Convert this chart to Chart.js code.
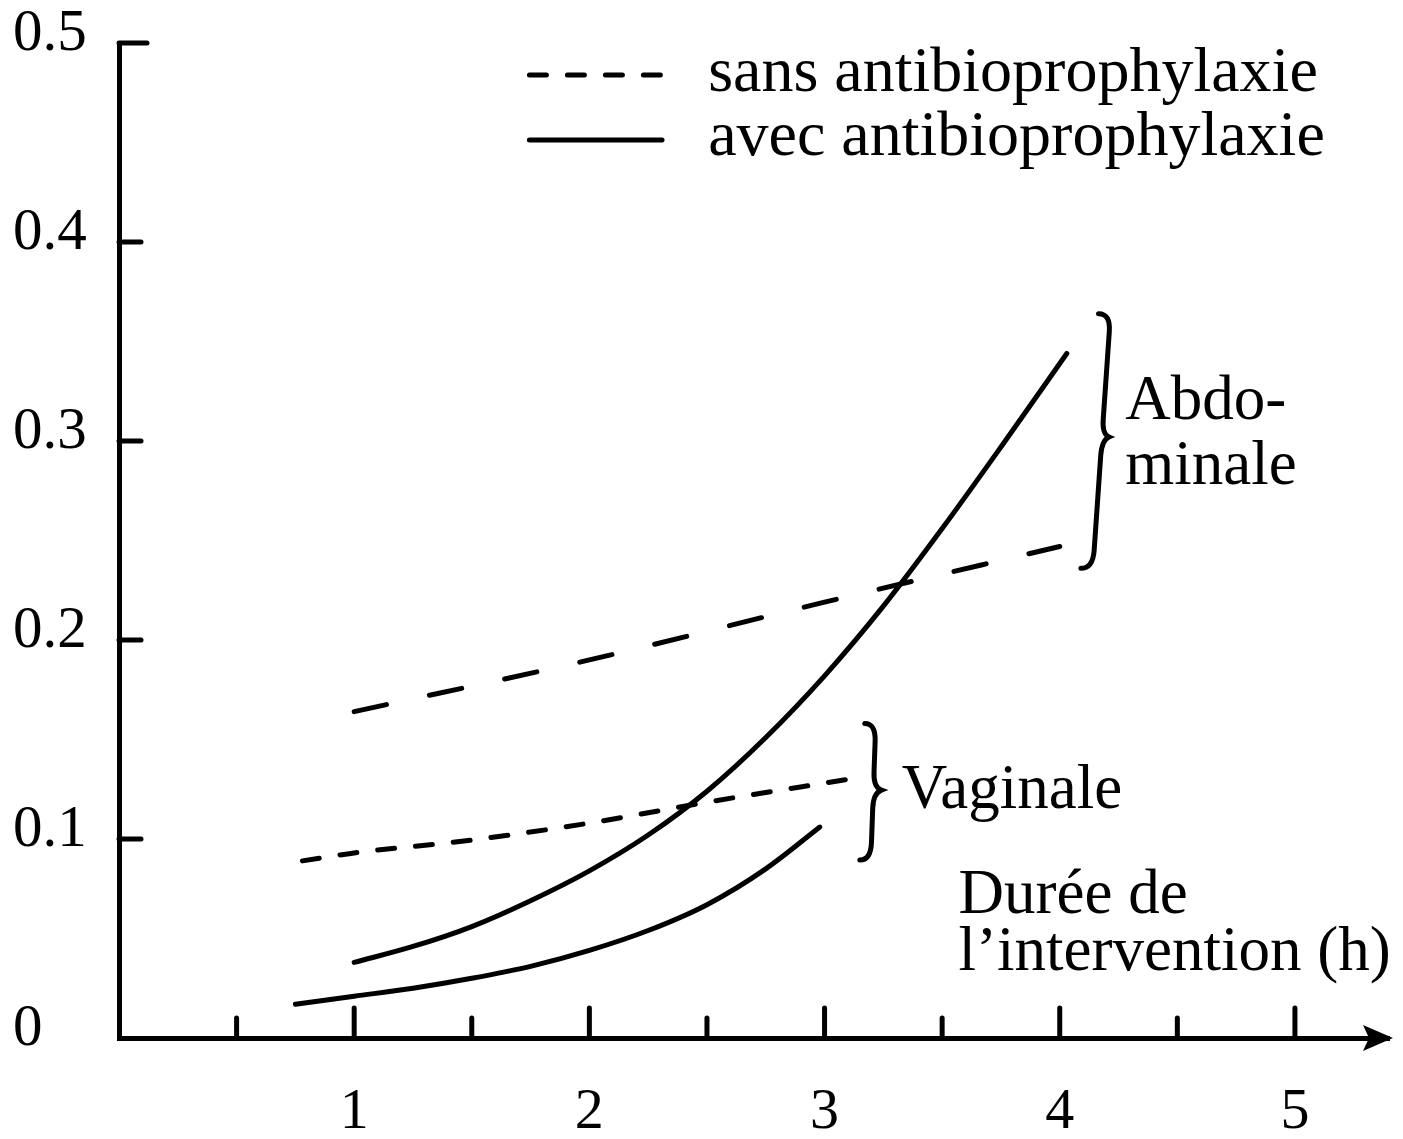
<!DOCTYPE html>
<html>
<head>
<meta charset="utf-8">
<title>Infection et durée de l'intervention</title>
<script src="https://cdn.jsdelivr.net/npm/chart.js@4.4.1/dist/chart.umd.min.js"></script>
<style>
  html, body { margin: 0; padding: 0; background: #fff; }
  #wrap { width: 1403px; height: 1139px; }
</style>
</head>
<body>
<div id="wrap"><canvas id="graphe" width="1403" height="1139"></canvas></div>
<script>
// valeurs : durée (h) -> taux
var abdoSansX = [1.0, 2.0, 3.0, 4.0];
var abdoSansY = [0.164, 0.190, 0.219, 0.247];

var abdoAvecX = [1.0, 1.25, 1.5, 1.75, 2.0, 2.25, 2.5, 2.75, 3.0, 3.25, 3.5, 3.75, 4.03];
var abdoAvecY = [0.038, 0.046, 0.056, 0.069, 0.084, 0.102, 0.124, 0.151, 0.182, 0.217, 0.256, 0.297, 0.344];

var vagSansX = [0.78, 1.0, 1.5, 2.0, 2.5, 3.1];
var vagSansY = [0.089, 0.093, 0.0995, 0.108, 0.1185, 0.130];

var vagAvecX = [0.75, 1.0, 1.25, 1.5, 1.75, 2.0, 2.25, 2.5, 2.75, 2.98];
var vagAvecY = [0.017, 0.021, 0.025, 0.030, 0.036, 0.044, 0.054, 0.067, 0.085, 0.106];

var xTickLabels = ['1', '2', '3', '4', '5'];
var yTickLabels = ['0', '0.1', '0.2', '0.3', '0.4', '0.5'];
var legendLabels = ['sans antibioprophylaxie', 'avec antibioprophylaxie'];

var serif = '"Liberation Serif", "DejaVu Serif", serif';

function points(xs, ys) {
  return xs.map(function (x, i) { return { x: x, y: ys[i] }; });
}

var trait = {
  borderColor: '#000',
  borderWidth: 5,
  pointRadius: 0,
  fill: false,
  cubicInterpolationMode: 'monotone',
  borderCapStyle: 'round',
  borderJoinStyle: 'round'
};

function accolade(ctx, b) {
  var s = b.spine, c = b.cusp, r = 18;
  var spineX = function (y) {
    return b.xTop + s + (b.xBot - b.xTop) * (y - b.yTop) / (b.yBot - b.yTop);
  };
  ctx.beginPath();
  ctx.moveTo(b.xTop, b.yTop);
  ctx.quadraticCurveTo(b.xTop + s, b.yTop, spineX(b.yTop + r), b.yTop + r);
  ctx.lineTo(spineX(b.yMid - r), b.yMid - r);
  ctx.quadraticCurveTo(spineX(b.yMid), b.yMid - 3, b.xTop + c + (b.xBot - b.xTop) * (b.yMid - b.yTop) / (b.yBot - b.yTop), b.yMid);
  ctx.quadraticCurveTo(spineX(b.yMid), b.yMid + 3, spineX(b.yMid + r), b.yMid + r);
  ctx.lineTo(spineX(b.yBot - r), b.yBot - r);
  ctx.quadraticCurveTo(b.xBot + s, b.yBot, b.xBot, b.yBot);
  ctx.stroke();
}

var habillage = {
  id: 'habillage',
  afterDraw: function (chart, args, opts) {
    var ctx = chart.ctx, xs = chart.scales.x, ys = chart.scales.y, area = chart.chartArea;
    var px = function (v) { return xs.getPixelForValue(v); };
    var py = function (v) { return ys.getPixelForValue(v); };
    ctx.save();
    ctx.strokeStyle = '#000';
    ctx.fillStyle = '#000';
    ctx.lineWidth = 5;
    ctx.lineCap = 'round';

    // graduations tournées vers l'intérieur
    ys.ticks.forEach(function (t) {
      if (t.value <= 0) return;
      var y = py(t.value);
      ctx.beginPath();
      ctx.moveTo(area.left, y);
      ctx.lineTo(area.left + (t.value >= 0.5 ? 28 : 22), y);
      ctx.stroke();
    });
    xs.ticks.forEach(function (t) {
      if (t.value <= 0 || t.value > 5) return;
      var x = px(t.value);
      var h = Number.isInteger(t.value) ? 30 : 20;
      ctx.beginPath();
      ctx.moveTo(x, area.bottom);
      ctx.lineTo(x, area.bottom - h);
      ctx.stroke();
    });

    // flèche au bout de l'axe des durées
    ctx.beginPath();
    ctx.moveTo(area.right + 4, area.bottom);
    ctx.lineTo(area.right - 26, area.bottom - 13);
    ctx.lineTo(area.right - 20, area.bottom);
    ctx.lineTo(area.right - 26, area.bottom + 13);
    ctx.closePath();
    ctx.fill();

    // légende
    var lg = opts.legende;
    ctx.setLineDash([17, 21]);
    ctx.beginPath();
    ctx.moveTo(px(lg.x0), py(lg.y1));
    ctx.lineTo(px(lg.x1), py(lg.y1));
    ctx.stroke();
    ctx.setLineDash([]);
    ctx.beginPath();
    ctx.moveTo(px(lg.x0), py(lg.y2));
    ctx.lineTo(px(lg.x1), py(lg.y2));
    ctx.stroke();

    ctx.font = '64px ' + serif;
    ctx.textAlign = 'left';
    ctx.textBaseline = 'alphabetic';
    ctx.fillText(legendLabels[0], px(lg.xt), py(lg.b1));
    ctx.fillText(legendLabels[1], px(lg.xt), py(lg.b2));

    // annotations
    ctx.font = '63px ' + serif;
    opts.textes.forEach(function (t) {
      ctx.fillText(t.texte, px(t.x), py(t.y));
    });

    // accolades
    ctx.lineWidth = 5;
    opts.accolades.forEach(function (a) {
      accolade(ctx, {
        xTop: px(a.xTop), xBot: px(a.xBot),
        yTop: py(a.yTop), yMid: py(a.yMid), yBot: py(a.yBot),
        spine: a.spine, cusp: a.cusp
      });
    });
    ctx.restore();
  }
};

var ctx = document.getElementById('graphe').getContext('2d');
var graphe = new Chart(ctx, {
  type: 'line',
  data: {
    datasets: [
      Object.assign({ label: 'Abdominale sans', data: points(abdoSansX, abdoSansY), borderDash: [33, 44] }, trait),
      Object.assign({ label: 'Abdominale avec', data: points(abdoAvecX, abdoAvecY) }, trait),
      Object.assign({ label: 'Vaginale sans', data: points(vagSansX, vagSansY), borderDash: [17, 21] }, trait),
      Object.assign({ label: 'Vaginale avec', data: points(vagAvecX, vagAvecY) }, trait)
    ]
  },
  options: {
    responsive: false,
    animation: false,
    events: [],
    layout: { autoPadding: false, padding: { left: 13, top: 43, right: 14, bottom: 0 } },
    scales: {
      x: {
        type: 'linear',
        min: 0,
        max: 5.4,
        afterFit: function (s) { s.height = 101; },
        grid: { display: false, drawTicks: false },
        border: { display: true, color: '#000', width: 5 },
        ticks: {
          stepSize: 0.5,
          includeBounds: false,
          autoSkip: false,
          maxRotation: 0,
          padding: 40,
          color: '#000',
          font: { family: serif, size: 58 },
          callback: function (v) {
            var i = xTickLabels.indexOf(String(v));
            return i >= 0 ? xTickLabels[i] : '';
          }
        }
      },
      y: {
        type: 'linear',
        min: 0,
        max: 0.5,
        afterFit: function (s) { s.width = 106; },
        grid: { display: false, drawTicks: false },
        border: { display: true, color: '#000', width: 5 },
        ticks: {
          stepSize: 0.1,
          crossAlign: 'far',
          labelOffset: -9,
          color: '#000',
          font: { family: serif, size: 59 },
          callback: function (v, i) { return yTickLabels[i]; }
        }
      }
    },
    plugins: {
      legend: { display: false },
      tooltip: { enabled: false },
      habillage: {
        legende: { x0: 1.745, x1: 2.309, y1: 0.4839, y2: 0.4513, xt: 2.505, b1: 0.4759, b2: 0.4437 },
        textes: [
          { texte: 'Abdo-', x: 4.279, y: 0.311 },
          { texte: 'minale', x: 4.279, y: 0.2784 },
          { texte: 'Vaginale', x: 3.328, y: 0.1156 },
          { texte: 'Durée de', x: 3.57, y: 0.0628 },
          { texte: 'l\u2019intervention (h)', x: 3.57, y: 0.0342 }
        ],
        accolades: [
          { xTop: 4.165, xBot: 4.09, yTop: 0.364, yMid: 0.302, yBot: 0.236, spine: 12, cusp: 19 },
          { xTop: 3.171, xBot: 3.15, yTop: 0.158, yMid: 0.1246, yBot: 0.0894, spine: 11, cusp: 19 }
        ]
      }
    }
  },
  plugins: [habillage]
});
</script>
</body>
</html>
